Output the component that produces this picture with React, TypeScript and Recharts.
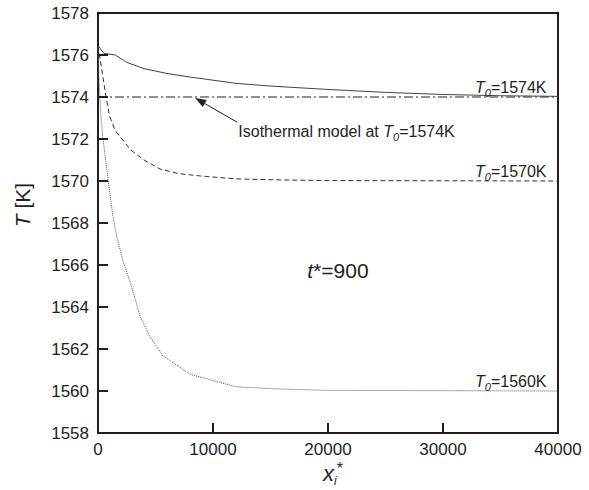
import React from "react";
import {
  LineChart,
  Line,
  XAxis,
  YAxis,
  ReferenceLine,
  ReferenceArea,
  ReferenceDot,
} from "recharts";

const FONT = '"Liberation Sans", Arial, Helvetica, sans-serif';
const INK = "#231f20";

const xTicks = [0, 10000, 20000, 30000, 40000];
const yTicks = [1558, 1560, 1562, 1564, 1566, 1568, 1570, 1572, 1574, 1576, 1578];

// T0 = 1574K, solid
const curve1574 = [
  { x: 0, T: 1576.45 },
  { x: 500, T: 1576.08 },
  { x: 1500, T: 1576.0 },
  { x: 2500, T: 1575.65 },
  { x: 4000, T: 1575.35 },
  { x: 6000, T: 1575.12 },
  { x: 8000, T: 1574.95 },
  { x: 10000, T: 1574.8 },
  { x: 12000, T: 1574.65 },
  { x: 15000, T: 1574.52 },
  { x: 20000, T: 1574.36 },
  { x: 25000, T: 1574.22 },
  { x: 30000, T: 1574.12 },
  { x: 35000, T: 1574.06 },
  { x: 40000, T: 1574.03 },
];

// T0 = 1570K, dashed
const curve1570 = [
  { x: 0, T: 1576.45 },
  { x: 300, T: 1575.4 },
  { x: 700, T: 1574.0 },
  { x: 1000, T: 1573.1 },
  { x: 1500, T: 1572.4 },
  { x: 2800, T: 1571.5 },
  { x: 4000, T: 1571.0 },
  { x: 5400, T: 1570.57 },
  { x: 7000, T: 1570.35 },
  { x: 8900, T: 1570.24 },
  { x: 12000, T: 1570.1 },
  { x: 16000, T: 1570.05 },
  { x: 20000, T: 1570.02 },
  { x: 40000, T: 1570.0 },
];

// T0 = 1560K, dotted
const curve1560 = [
  { x: 0, T: 1576.45 },
  { x: 100, T: 1574.6 },
  { x: 250, T: 1573.1 },
  { x: 435, T: 1572.0 },
  { x: 870, T: 1570.1 },
  { x: 1300, T: 1568.3 },
  { x: 1650, T: 1567.3 },
  { x: 2170, T: 1566.2 },
  { x: 2960, T: 1564.9 },
  { x: 3700, T: 1563.5 },
  { x: 4500, T: 1562.6 },
  { x: 5650, T: 1561.67 },
  { x: 8000, T: 1560.8 },
  { x: 12000, T: 1560.2 },
  { x: 15500, T: 1560.1 },
  { x: 20000, T: 1560.03 },
  { x: 40000, T: 1560.0 },
];

const isothermalT = 1574;
const arrowTip = { x: 8450, T: 1573.95 };
const arrowTail = { x: 12100, T: 1572.8 };

const TICK_MARGIN = 8;

function YTick(props: any) {
  const { x, y, payload } = props;
  const axisX = x + TICK_MARGIN;
  return (
    <g>
      <line x1={axisX} x2={axisX + 10} y1={y} y2={y} stroke={INK} strokeWidth={2} />
      <text x={x - 1} y={y + 6} textAnchor="end" fontSize={17} fontFamily={FONT} fill={INK}>
        {payload.value}
      </text>
    </g>
  );
}

function XTick(props: any) {
  const { x, y, payload } = props;
  const axisY = y - TICK_MARGIN;
  return (
    <g>
      <line x1={x} x2={x} y1={axisY} y2={axisY - 10} stroke={INK} strokeWidth={2} />
      <text x={x} y={y + 14} textAnchor="middle" fontSize={17} fontFamily={FONT} fill={INK}>
        {payload.value}
      </text>
    </g>
  );
}

function T0Label(value: string, anchor: "start" | "end") {
  return (props: any) => (
    <text
      x={props.cx}
      y={props.cy - 4}
      textAnchor={anchor}
      fontSize={16}
      fontFamily={FONT}
      fill={INK}
    >
      {anchor === "start" ? "Isothermal model at " : ""}
      <tspan fontStyle="italic">T</tspan>
      <tspan fontStyle="italic" fontSize={11} dy={4}>0</tspan>
      <tspan dy={-4}>{value}</tspan>
    </text>
  );
}

function TimeLabel(props: any) {
  return (
    <text x={props.cx} y={props.cy} fontSize={21} fontFamily={FONT} fill={INK}>
      <tspan fontStyle="italic">t</tspan>
      <tspan>*=900</tspan>
    </text>
  );
}

function Arrow(props: any) {
  const { x1, y1, x2, y2 } = props;
  // x1,y1 = tail, x2,y2 = tip
  const ang = Math.atan2(y2 - y1, x2 - x1);
  const len = 11;
  const w = 4;
  const bx = x2 - len * Math.cos(ang);
  const by = y2 - len * Math.sin(ang);
  const px = -Math.sin(ang) * w;
  const py = Math.cos(ang) * w;
  return (
    <g>
      <line x1={x1} y1={y1} x2={bx} y2={by} stroke={INK} strokeWidth={1} />
      <polygon
        points={`${x2},${y2} ${bx + px},${by + py} ${bx - px},${by - py}`}
        fill={INK}
      />
    </g>
  );
}

export default function App() {
  return (
    <div style={{ position: "absolute", left: 0, top: 0, width: 589, height: 490, background: "#fff" }}>
      <LineChart
        width={589}
        height={490}
        margin={{ top: 13, right: 31, bottom: 0, left: 38 }}
      >
        <XAxis
          type="number"
          dataKey="x"
          domain={[0, 40000]}
          ticks={xTicks}
          allowDataOverflow
          axisLine={false}
          tickLine={false}
          tickSize={0}
          tickMargin={TICK_MARGIN}
          tick={<XTick />}
          interval={0}
          height={57}
          label={{
            content: (p: any) => (
              <text
                x={p.viewBox.x + 225}
                y={p.viewBox.y + 48}
                fontSize={22}
                fontFamily={FONT}
                fill={INK}
              >
                <tspan fontStyle="italic">x</tspan>
                <tspan fontStyle="italic" fontSize={12} dy={4}>i</tspan>
                <tspan fontSize={16} dy={-11}>*</tspan>
              </text>
            ),
          }}
        />
        <YAxis
          type="number"
          domain={[1558, 1578]}
          ticks={yTicks}
          allowDataOverflow
          axisLine={false}
          tickLine={false}
          tickSize={0}
          tickMargin={TICK_MARGIN}
          tick={<YTick />}
          interval={0}
          width={60}
          label={{
            content: () => (
              <text
                x={22}
                y={205}
                transform="rotate(-90 22 205)"
                textAnchor="middle"
                dominantBaseline="central"
                fontSize={21}
                fontFamily={FONT}
                fill={INK}
              >
                <tspan fontStyle="italic">T</tspan>
                <tspan> [K]</tspan>
              </text>
            ),
          }}
        />
        <ReferenceArea
          x1={0}
          x2={40000}
          y1={1558}
          y2={1578}
          fill="none"
          stroke={INK}
          strokeWidth={2}
          fillOpacity={0}
        />
        <ReferenceLine
          y={isothermalT}
          stroke={INK}
          strokeWidth={1}
          strokeDasharray="9 3 2 3"
        />
        <Line
          data={curve1574}
          dataKey="T"
          type="linear"
          stroke="#444"
          strokeWidth={1}
          dot={false}
          isAnimationActive={false}
        />
        <Line
          data={curve1570}
          dataKey="T"
          type="linear"
          stroke="#333"
          strokeWidth={1}
          strokeDasharray="5 3"
          dot={false}
          isAnimationActive={false}
        />
        <Line
          data={curve1560}
          dataKey="T"
          type="linear"
          stroke="#555"
          strokeWidth={1}
          strokeDasharray="1 1"
          dot={false}
          isAnimationActive={false}
        />
        <ReferenceLine
          segment={[
            { x: arrowTail.x, y: arrowTail.T },
            { x: arrowTip.x, y: arrowTip.T },
          ]}
          shape={<Arrow />}
        />
        <ReferenceDot x={39000} y={1574} r={0} shape={T0Label("=1574K", "end")} />
        <ReferenceDot x={39000} y={1570} r={0} shape={T0Label("=1570K", "end")} />
        <ReferenceDot x={39000} y={1560} r={0} shape={T0Label("=1560K", "end")} />
        <ReferenceDot x={12200} y={1571.9} r={0} shape={T0Label("=1574K", "start")} />
        <ReferenceDot x={18200} y={1565.4} r={0} shape={TimeLabel} />
      </LineChart>
    </div>
  );
}
